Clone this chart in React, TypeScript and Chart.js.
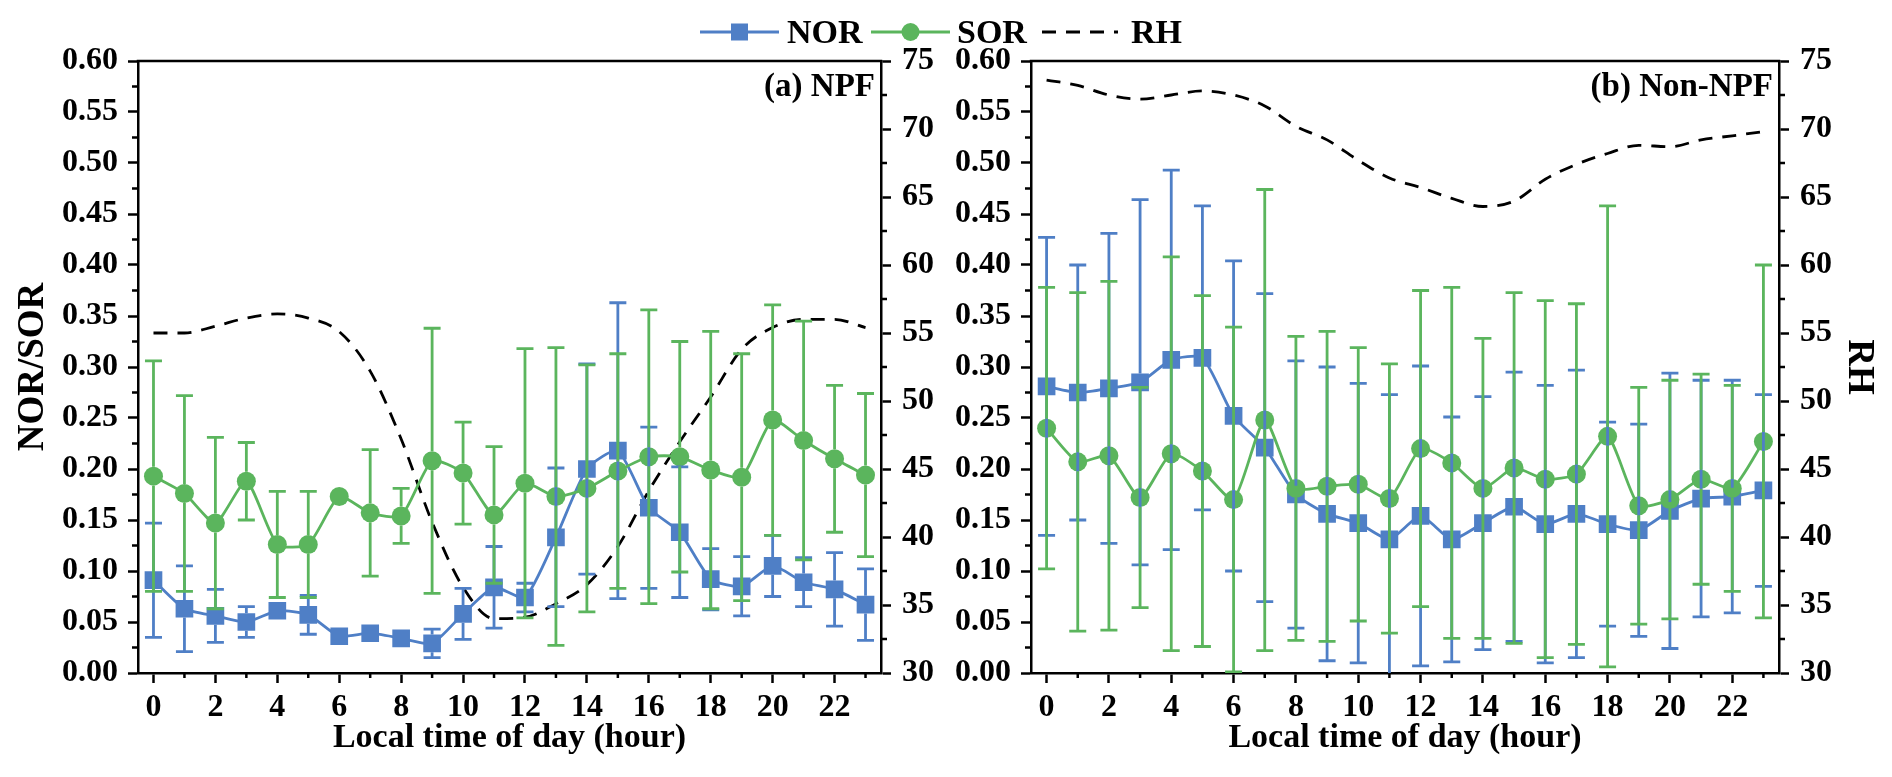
import React, { useEffect, useRef } from 'react';
import { Chart, registerables } from 'chart.js';

Chart.register(...registerables);

// ---------- data ----------
const HOURS = ['0', '1', '2', '3', '4', '5', '6', '7', '8', '9', '10', '11', '12', '13', '14', '15', '16', '17', '18', '19', '20', '21', '22', '23'];
const LEFT_TICKS = [0, 0.05, 0.1, 0.15, 0.2, 0.25, 0.3, 0.35, 0.4, 0.45, 0.5, 0.55, 0.6];
const RH_TICKS = [30, 35, 40, 45, 50, 55, 60, 65, 70, 75];

// (a) NPF days
const NOR_NPF = [0.091, 0.063, 0.056, 0.050, 0.061, 0.057, 0.036, 0.039, 0.034, 0.029, 0.058, 0.084, 0.074, 0.133, 0.200, 0.218, 0.162, 0.138, 0.092, 0.085, 0.105, 0.089, 0.082, 0.067];
const NOR_NPF_SD = [0.056, 0.042, 0.026, 0.015, 0.007, 0.019, 0.005, 0.005, 0.006, 0.014, 0.025, 0.040, 0.014, 0.068, 0.103, 0.145, 0.079, 0.064, 0.030, 0.029, 0.030, 0.024, 0.036, 0.035];
const SOR_NPF = [0.193, 0.176, 0.147, 0.188, 0.126, 0.126, 0.173, 0.157, 0.154, 0.208, 0.196, 0.155, 0.186, 0.173, 0.181, 0.198, 0.212, 0.212, 0.199, 0.192, 0.248, 0.228, 0.210, 0.194];
const SOR_NPF_SD = [0.113, 0.096, 0.084, 0.038, 0.052, 0.052, 0.006, 0.062, 0.027, 0.130, 0.050, 0.067, 0.132, 0.146, 0.121, 0.115, 0.144, 0.113, 0.136, 0.121, 0.113, 0.117, 0.072, 0.080];
const RH_NPF = [55.0, 55.0, 55.5, 56.1, 56.4, 56.1, 55.1, 52.2, 47.2, 41.1, 36.3, 34.0, 34.1, 35.1, 36.5, 39.3, 43.4, 47.0, 50.3, 53.8, 55.4, 56.0, 56.0, 55.4];

// (b) Non-NPF days
const NOR_NON = [0.281, 0.275, 0.279, 0.285, 0.307, 0.309, 0.252, 0.221, 0.175, 0.156, 0.147, 0.131, 0.154, 0.131, 0.147, 0.163, 0.146, 0.156, 0.146, 0.140, 0.159, 0.171, 0.173, 0.179];
const NOR_NON_SD = [0.146, 0.125, 0.152, 0.179, 0.186, 0.149, 0.152, 0.151, 0.131, 0.144, 0.137, 0.142, 0.147, 0.120, 0.124, 0.132, 0.136, 0.141, 0.100, 0.104, 0.135, 0.116, 0.114, 0.094];
const SOR_NON = [0.240, 0.207, 0.213, 0.172, 0.215, 0.198, 0.170, 0.248, 0.181, 0.183, 0.185, 0.171, 0.220, 0.206, 0.181, 0.201, 0.190, 0.195, 0.232, 0.164, 0.170, 0.190, 0.181, 0.227];
const SOR_NON_SD = [0.138, 0.166, 0.171, 0.108, 0.193, 0.172, 0.169, 0.226, 0.149, 0.152, 0.134, 0.132, 0.155, 0.172, 0.147, 0.172, 0.175, 0.167, 0.226, 0.116, 0.117, 0.103, 0.101, 0.173];
const RH_NON = [73.6, 73.2, 72.5, 72.2, 72.5, 72.8, 72.5, 71.7, 70.2, 69.2, 67.7, 66.4, 65.7, 64.9, 64.3, 64.7, 66.3, 67.4, 68.2, 68.8, 68.7, 69.2, 69.5, 69.8];

// ---------- style ----------
const BLUE = '#4f7fc6';
const GREEN = '#5bb55d';
const FONT = '"Liberation Serif", "Times New Roman", "DejaVu Serif", serif';
const AXW = 2.5;
const LW = 2.8;

const errorBars = {
  id: 'errorBars',
  afterDatasetsDraw(chart: any) {
    const { ctx, chartArea } = chart;
    ctx.save();
    ctx.beginPath();
    ctx.rect(chartArea.left, chartArea.top, chartArea.right - chartArea.left, chartArea.bottom - chartArea.top);
    ctx.clip();
    const order = [1, 0]; // NOR first, then SOR on top
    for (const di of order) {
      const ds: any = chart.data.datasets[di];
      if (!ds.errors) continue;
      const meta = chart.getDatasetMeta(di);
      const ys = chart.scales[ds.yAxisID];
      const gap = ds.markerHalf || 0;
      ctx.strokeStyle = ds.borderColor;
      ctx.lineWidth = LW;
      ds.errors.forEach((e: number, i: number) => {
        const v = ds.data[i];
        const x = meta.data[i].x;
        const yc = ys.getPixelForValue(v);
        const yHi = ys.getPixelForValue(v + e);
        const yLo = ys.getPixelForValue(v - e);
        ctx.beginPath();
        if (yc - yHi > gap) {
          ctx.moveTo(x, yc - gap);
          ctx.lineTo(x, yHi);
          ctx.moveTo(x - 8.5, yHi);
          ctx.lineTo(x + 8.5, yHi);
        }
        if (yLo - yc > gap) {
          ctx.moveTo(x, yc + gap);
          ctx.lineTo(x, yLo);
          ctx.moveTo(x - 8.5, yLo);
          ctx.lineTo(x + 8.5, yLo);
        }
        ctx.stroke();
      });
    }
    ctx.restore();
  },
};

const decor = {
  id: 'decor',
  afterDraw(chart: any, _args: any, opts: any) {
    const { ctx, chartArea } = chart;
    ctx.save();
    ctx.strokeStyle = '#000';
    ctx.lineWidth = AXW;
    ctx.beginPath();
    ctx.moveTo(chartArea.left - AXW / 2, chartArea.top);
    ctx.lineTo(chartArea.right + AXW / 2, chartArea.top);
    // minor ticks
    const y = chart.scales.y;
    const y1 = chart.scales.y1;
    const x = chart.scales.x;
    for (let i = 0; i < LEFT_TICKS.length - 1; i++) {
      const py = y.getPixelForValue((LEFT_TICKS[i] + LEFT_TICKS[i + 1]) / 2);
      ctx.moveTo(y.right, py);
      ctx.lineTo(y.right - 6, py);
    }
    for (let i = 0; i < RH_TICKS.length - 1; i++) {
      const py = y1.getPixelForValue((RH_TICKS[i] + RH_TICKS[i + 1]) / 2);
      ctx.moveTo(y1.left, py);
      ctx.lineTo(y1.left + 6, py);
    }
    for (let i = 1; i < HOURS.length; i += 2) {
      const px = x.getPixelForValue(i);
      ctx.moveTo(px, x.top);
      ctx.lineTo(px, x.top + 5);
    }
    ctx.stroke();
    ctx.fillStyle = '#000';
    ctx.font = `bold 33px ${FONT}`;
    ctx.textAlign = 'right';
    ctx.textBaseline = 'middle';
    ctx.fillText(opts.label, chartArea.right - 6, chartArea.top + 26);
    ctx.restore();
  },
};

type PanelCfg = {
  nor: number[];
  norSd: number[];
  sor: number[];
  sorSd: number[];
  rh: number[];
  label: string;
  leftW: number;
  rightW: number;
  leftTitle: boolean;
  rightTitle: boolean;
};

function buildChart(canvas: HTMLCanvasElement, c: PanelCfg) {
  const tickFont = { family: FONT, size: 32, weight: 'bold' as const };
  const axisCommon = {
    border: { display: true, width: AXW, color: '#000' },
  };
  return new Chart(canvas, {
    type: 'line',
    data: {
      labels: HOURS,
      datasets: [
        {
          label: 'SOR',
          data: c.sor,
          yAxisID: 'y',
          borderColor: GREEN,
          backgroundColor: GREEN,
          borderWidth: LW,
          pointStyle: 'circle',
          pointRadius: 9.5,
          pointBorderWidth: 0,
          pointBackgroundColor: GREEN,
          tension: 0.2,
          errors: c.sorSd,
          markerHalf: 9.5,
        } as any,
        {
          label: 'NOR',
          data: c.nor,
          yAxisID: 'y',
          borderColor: BLUE,
          backgroundColor: BLUE,
          borderWidth: LW,
          pointStyle: 'rect',
          pointRadius: 12.5,
          pointBorderWidth: 0,
          pointBackgroundColor: BLUE,
          tension: 0.2,
          errors: c.norSd,
          markerHalf: 8.8,
        } as any,
        {
          label: 'RH',
          data: c.rh,
          yAxisID: 'y1',
          borderColor: '#000',
          borderWidth: LW,
          borderDash: [14, 10],
          pointRadius: 0,
          cubicInterpolationMode: 'monotone',
        } as any,
      ],
    },
    options: {
      responsive: false,
      maintainAspectRatio: false,
      animation: false,
      devicePixelRatio: 1,
      layout: { padding: { top: 61, left: 0, right: 0, bottom: 0 } },
      plugins: {
        legend: { display: false },
        tooltip: { enabled: false },
        decor: { label: c.label },
      } as any,
      scales: {
        x: {
          type: 'category',
          offset: true,
          ...axisCommon,
          grid: {
            drawOnChartArea: false,
            drawTicks: true,
            tickLength: 10,
            tickWidth: AXW,
            tickColor: (ctx: any) => (ctx.index % 2 === 0 ? '#000' : 'rgba(0,0,0,0)'),
          },
          ticks: {
            autoSkip: false,
            maxRotation: 0,
            minRotation: 0,
            padding: 6,
            color: '#000',
            font: tickFont,
            callback: function (this: any, val: any, idx: number) {
              return idx % 2 === 0 ? HOURS[idx] : '';
            },
          },
          title: {
            display: true,
            text: 'Local time of day (hour)',
            color: '#000',
            font: { family: FONT, size: 34, weight: 'bold' },
            padding: { top: 0, bottom: 18 },
          },
          afterFit: (s: any) => {
            s.height = 104;
          },
        } as any,
        y: {
          type: 'linear',
          position: 'left',
          min: 0,
          max: 0.6,
          ...axisCommon,
          afterBuildTicks: (s: any) => {
            s.ticks = LEFT_TICKS.map((v) => ({ value: v }));
          },
          grid: { drawOnChartArea: false, tickLength: 10, tickWidth: AXW, tickColor: '#000' },
          ticks: {
            padding: 10,
            color: '#000',
            font: tickFont,
            callback: (v: any) => Number(v).toFixed(2),
          },
          title: {
            display: c.leftTitle,
            text: 'NOR/SOR',
            color: '#000',
            font: { family: FONT, size: 37, weight: 'bold' },
            padding: { top: 11, bottom: 0 },
          },
          afterFit: (s: any) => {
            s.width = c.leftW;
          },
        } as any,
        y1: {
          type: 'linear',
          position: 'right',
          min: 30,
          max: 75,
          ...axisCommon,
          afterBuildTicks: (s: any) => {
            s.ticks = RH_TICKS.map((v) => ({ value: v }));
          },
          grid: { drawOnChartArea: false, tickLength: 10, tickWidth: AXW, tickColor: '#000' },
          ticks: {
            padding: 11,
            color: '#000',
            font: tickFont,
            callback: (v: any) => String(v),
          },
          title: {
            display: c.rightTitle,
            text: 'RH',
            color: '#000',
            font: { family: FONT, size: 37, weight: 'bold' },
            padding: { top: 11, bottom: 0 },
          },
          afterFit: (s: any) => {
            s.width = c.rightW;
          },
        } as any,
      },
    },
    plugins: [errorBars, decor],
  });
}

const LEFT_W = 943;
const RIGHT_W = 949;
const H = 777;

export default function App() {
  const leftRef = useRef<HTMLCanvasElement>(null);
  const rightRef = useRef<HTMLCanvasElement>(null);

  useEffect(() => {
    const a = buildChart(leftRef.current!, {
      nor: NOR_NPF,
      norSd: NOR_NPF_SD,
      sor: SOR_NPF,
      sorSd: SOR_NPF_SD,
      rh: RH_NPF,
      label: '(a) NPF',
      leftW: 138,
      rightW: 62,
      leftTitle: true,
      rightTitle: false,
    });
    const b = buildChart(rightRef.current!, {
      nor: NOR_NON,
      norSd: NOR_NON_SD,
      sor: SOR_NON,
      sorSd: SOR_NON_SD,
      rh: RH_NON,
      label: '(b) Non-NPF',
      leftW: 88,
      rightW: 113,
      leftTitle: false,
      rightTitle: true,
    });
    return () => {
      a.destroy();
      b.destroy();
    };
  }, []);

  const legendText: React.CSSProperties = {
    position: 'absolute',
    top: 12,
    font: `bold 34px/40px ${FONT}`,
    color: '#000',
    whiteSpace: 'nowrap',
  };

  return (
    <div style={{ position: 'absolute', left: 0, top: 0, width: 1892, height: H, background: '#fff', overflow: 'hidden' }}>
      <canvas ref={leftRef} width={LEFT_W} height={H} style={{ position: 'absolute', left: 0, top: 0, width: LEFT_W, height: H }} />
      <canvas ref={rightRef} width={RIGHT_W} height={H} style={{ position: 'absolute', left: LEFT_W, top: 0, width: RIGHT_W, height: H }} />
      <svg width={79} height={20} style={{ position: 'absolute', left: 700, top: 22 }}>
        <line x1={0} y1={10} x2={79} y2={10} stroke={BLUE} strokeWidth={LW} />
        <rect x={31} y={1.5} width={17} height={17} fill={BLUE} />
      </svg>
      <span style={{ ...legendText, left: 787 }}>NOR</span>
      <svg width={79} height={20} style={{ position: 'absolute', left: 871, top: 22 }}>
        <line x1={0} y1={10} x2={79} y2={10} stroke={GREEN} strokeWidth={LW} />
        <circle cx={39.5} cy={10} r={9} fill={GREEN} />
      </svg>
      <span style={{ ...legendText, left: 957 }}>SOR</span>
      <svg width={76} height={20} style={{ position: 'absolute', left: 1042, top: 22 }}>
        <line x1={0} y1={10} x2={76} y2={10} stroke="#000" strokeWidth={LW} strokeDasharray="14 10" />
      </svg>
      <span style={{ ...legendText, left: 1131 }}>RH</span>
    </div>
  );
}
